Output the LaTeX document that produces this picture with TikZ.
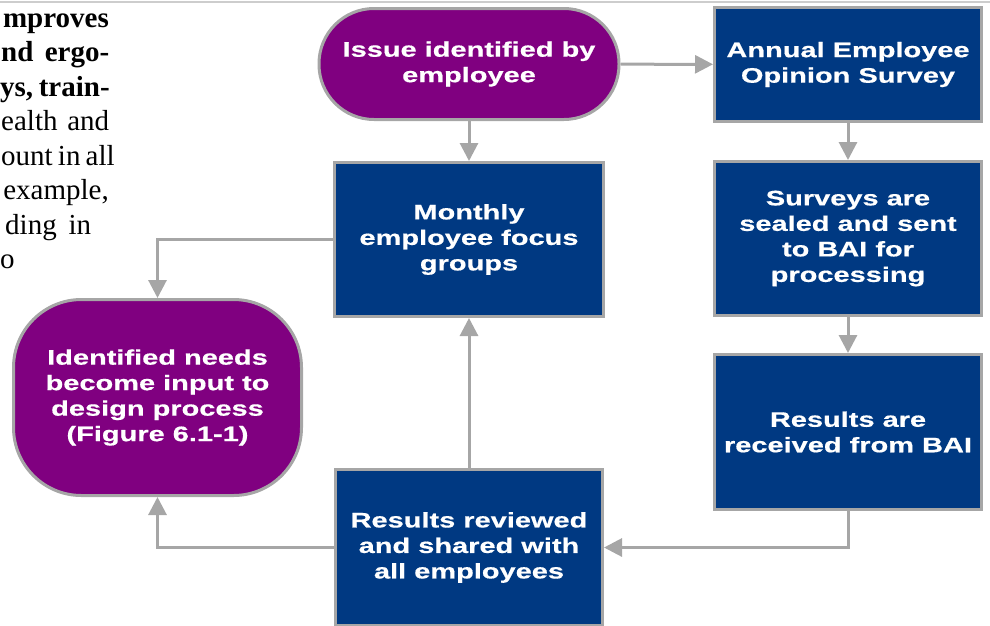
\documentclass[tikz,border=0pt]{standalone}
\usepackage{fontspec}
\setmainfont{Liberation Serif}
\newfontfamily\boxfont[FakeStretch=1.38,FakeBold=0.6]{Liberation Sans}
\usetikzlibrary{arrows.meta}
\definecolor{flowpurple}{RGB}{128,0,128}
\definecolor{flowblue}{RGB}{0,57,130}
\definecolor{flowgray}{RGB}{166,166,166}
\definecolor{rulegray}{RGB}{205,205,205}
\newcommand{\colspacing}{\spaceskip=0.25em plus 0.5em minus 0.07em\relax}
\begin{document}
\begin{tikzpicture}[x=1pt,y=-1pt,
  main node/.style={rectangle,draw=flowgray,line width=3pt,text=white,align=center,
    inner sep=0pt,font=\boxfont\bfseries\fontsize{21}{25.5}\selectfont},
  box node/.style={main node,fill=flowblue,minimum width=267pt,minimum height=154pt},
  pill node/.style={main node,fill=flowpurple},
  body text/.style={inner sep=0pt,font=\fontsize{29}{34.5}\selectfont\colspacing},
  link/.style={draw=flowgray,line width=3pt,-{Triangle[length=18pt,width=18pt,fill=flowgray]}}]

  \useasboundingbox (0,0) rectangle (990,625);
  \clip (0,0) rectangle (990,625);
  \draw[rulegray,line width=2pt] (0,1.5) -- (990,1.5);

  % left edge of the page column
  \node[body text,anchor=base east] (l1) at (109,27) {\bfseries mproves};
  \node[body text,anchor=base west] (l2) at (1,61.5) {\bfseries\makebox[108pt][s]{nd ergo-}};
  \node[body text,anchor=base west] (l3) at (0,96) {\bfseries\makebox[109pt][s]{ys, train-}};
  \node[body text,anchor=base west] (l4) at (1,130.5) {\makebox[108pt][s]{ealth and}};
  \node[body text,anchor=base west] (l5) at (1,165) {\makebox[108pt][s]{ount in all}};
  \node[body text,anchor=base east] (l6) at (109,199.5) {example,};
  \node[body text,anchor=base west] (l7) at (5,234) {\makebox[86pt][s]{ding in}};
  \node[body text,anchor=base west] (l8) at (0,268.5) {o};

  \node[pill node,minimum width=300pt,minimum height=111pt,rounded corners=55pt]
    (1) at (469,64) {Issue identified by\\employee};
  \node[box node,minimum height=114pt] (2) at (848,64.5) {Annual Employee\\Opinion Survey};
  \node[box node] (3) at (848,238.5) {Surveys are\\sealed and sent\\to BAI for\\processing};
  \node[box node,minimum height=155pt] (4) at (848,432) {Results are\\received from BAI};
  \node[box node,minimum height=156pt] (5) at (469,547.5) {Results reviewed\\and shared with\\all employees};
  \node[box node,minimum width=269pt] (6) at (469,239.5) {Monthly\\employee focus\\groups};
  \node[pill node,minimum width=288pt,minimum height=196pt,rounded corners=68pt]
    (7) at (157.5,397.5) {Identified needs\\become input to\\design process\\(Figure 6.1-1)};

  \path
   (1) edge[link] (2)
   (1) edge[link] (6)
   (2) edge[link] (3)
   (3) edge[link] (4)
   (5) edge[link] (6);
  \draw[link] (4) |- (5);
  \draw[link] (6) -| (7);
  \draw[link] (5) -| (7);
\end{tikzpicture}
\end{document}
